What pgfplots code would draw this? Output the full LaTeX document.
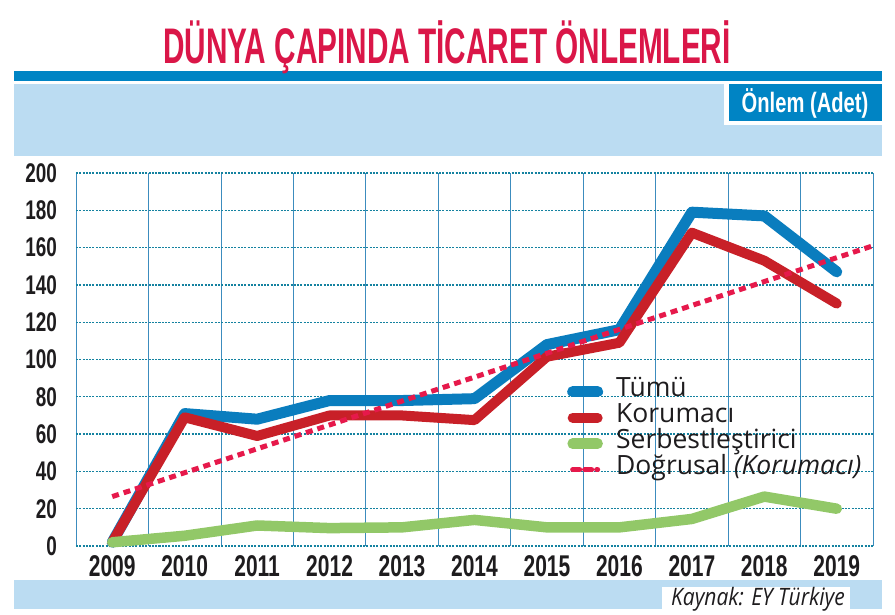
\documentclass[border=0pt]{standalone}
\usepackage{fontspec}
\usepackage{pgfplots}
\pgfplotsset{compat=1.18}
\setmainfont{Open Sans}
\newfontfamily\condfont[FakeStretch=0.7]{Liberation Sans}
\newfontfamily\boxfont[FakeStretch=0.72]{Liberation Sans}
\newfontfamily\titlefont[FakeStretch=0.595]{Liberation Sans}
\newfontfamily\srcfont[FakeStretch=0.875]{Open Sans}
\definecolor{titlered}{RGB}{218,22,72}
\definecolor{barblue}{RGB}{0,132,196}
\definecolor{bandblue}{RGB}{187,220,242}
\definecolor{lineblue}{RGB}{10,125,190}
\definecolor{linered}{RGB}{200,32,40}
\definecolor{linegreen}{RGB}{146,200,104}
\definecolor{trendred}{RGB}{230,25,75}
\definecolor{gridteal}{RGB}{20,130,160}
\definecolor{vgrid}{RGB}{60,140,190}
\definecolor{txt}{RGB}{30,28,30}
\begin{document}
\begin{tikzpicture}
\begin{scope}[x=1pt,y=-1pt]
\useasboundingbox[fill=white] (0,0) rectangle (895,614);
\fill[barblue] (14,71) rectangle (882,81);
\fill[bandblue] (14,84) rectangle (882,156);
\fill[white] (724,84) rectangle (882,125);
\fill[barblue] (729,84) rectangle (882,121);
\node[anchor=base, text=white, inner sep=0] at (805,112) {\boxfont\bfseries\fontsize{28}{28}\selectfont Önlem (Adet)};
\node[anchor=base, text=titlered, inner sep=0] at (447,63) {\titlefont\bfseries\fontsize{50}{50}\selectfont DÜNYA ÇAPINDA TİCARET ÖNLEMLERİ};
\fill[bandblue] (14,580) rectangle (882,609);
\fill[white] (662,587) rectangle (850,609);
\node[anchor=base west, inner sep=0, text=txt] at (671,605) {\srcfont\itshape\fontsize{24}{24}\selectfont Kaynak: EY Türkiye};
\end{scope}
\begin{axis}[
  at={(76pt,-546pt)}, anchor=south west,
  scale only axis, width=797pt, height=373pt,
  xmin=-0.5, xmax=10.5, ymin=0, ymax=200,
  clip=false,
  axis line style={draw=none},
  xtick={0,...,10},
  xticklabels={2009,2010,2011,2012,2013,2014,2015,2016,2017,2018,2019},
  ytick={0,20,...,200},
  /pgf/number format/assume math mode=true,
  minor xtick={-0.5,0.5,...,10.5},
  xminorgrids, ymajorgrids,
  major tick length=0pt, minor tick length=0pt,
  minor x grid style={vgrid, line width=0.8pt},
  major y grid style={gridteal, line width=1.3pt, dash pattern=on 2pt off 1.3pt},
  xticklabel style={font=\condfont\bfseries\fontsize{30}{30}\selectfont, text=txt, inner sep=0pt, anchor=north, yshift=-9pt},
  yticklabel style={font=\condfont\bfseries\fontsize{27}{27}\selectfont, text=txt, inner sep=0pt, anchor=east, xshift=-19pt},
  legend style={at={(0.616,0.449)}, anchor=north west, draw=none, fill=none, inner sep=0pt,
    font=\fontsize{26.5}{26.5}\selectfont, text=txt,
    nodes={inner sep=1pt, text height=17pt, text depth=7pt},
    /tikz/every odd column/.append style={column sep=12pt}},
  legend cell align=left,
  legend image code/.code={\draw[line cap=round,#1] (5.5pt,0pt) -- (30.5pt,0pt);},
]
\addplot[lineblue, line width=11pt, line join=round, line cap=round] coordinates {(0,2)(1,71)(2,68)(3,78)(4,78)(5,79)(6,108)(7,116)(8,179)(9,177)(10,147)};
\addlegendentry{Tümü}
\addplot[linered, line width=10pt, line join=round, line cap=round] coordinates {(0,2)(1,69)(2,59)(3,70)(4,70)(5,67.5)(6,101.5)(7,109)(8,168)(9,153)(10,130)};
\addlegendentry{Korumacı}
\addplot[linegreen, line width=10.5pt, line join=round, line cap=round] coordinates {(0,2)(1,5.5)(2,11)(3,9.6)(4,10)(5,14)(6,10)(7,10)(8,14.5)(9,26.5)(10,20)};
\addlegendentry{Serbestleştirici}
\addplot[trendred, line width=5pt, line cap=butt, dash pattern=on 7pt off 5pt] coordinates {(0,26.5)(10.5,161)};
\addlegendentry{Doğrusal \textit{(Korumacı)}}
\end{axis}
\end{tikzpicture}
\end{document}
